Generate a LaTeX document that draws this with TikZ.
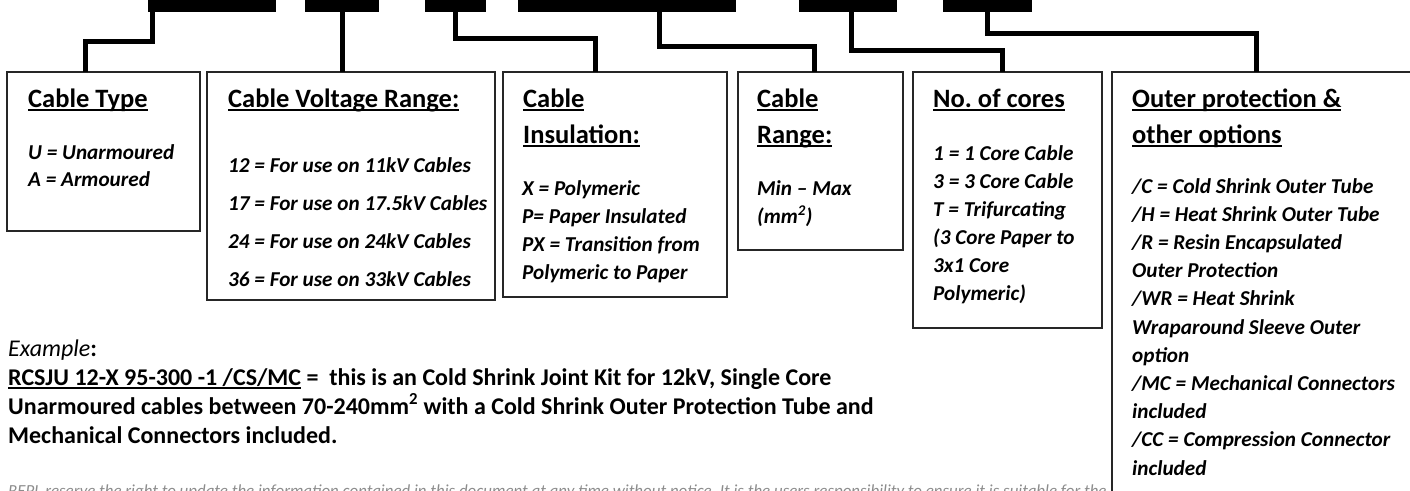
\documentclass[tikz,border=0pt]{standalone}
\usepackage{fontspec}
\setmainfont{Carlito}
\usetikzlibrary{positioning}
\frenchspacing
% underline at a fixed depth, as a word processor draws it
\newcommand\undl[1]{\setbox0\hbox{#1}\rlap{\rule[-3.8pt]{\wd0}{1.9pt}}\box0\relax}

\begin{document}
\begin{tikzpicture}[x=1pt,y=-1pt,
    bar/.style={fill=black,inner sep=0pt,outer sep=0pt,minimum height=17pt,anchor=south west},
    box/.style={draw=black!85,line width=1.6pt,inner sep=0pt,outer sep=0pt,anchor=north west},
    wire/.style={line width=5pt},
    head/.style={anchor=base west,inner sep=0pt,font=\fontsize{26.5}{26.5}\selectfont\bfseries},
    item/.style={anchor=base west,inner sep=0pt,font=\fontsize{21.2}{21.2}\selectfont\bfseries\itshape},
    ex/.style={anchor=base west,inner sep=0pt,font=\fontsize{24}{24}\selectfont\bfseries}]
  \useasboundingbox (0,0) rectangle (1410,490);
  \clip (0,0) rectangle (1410,490);

  % code bars along the top
  \node[bar,minimum width=128pt] (bar1) at (148,12) {};
  \node[bar,minimum width=74pt] (bar2) at (305,12) {};
  \node[bar,minimum width=61pt] (bar3) at (425,12) {};
  \node[bar,minimum width=218pt] (bar4) at (518,12) {};
  \node[bar,minimum width=98pt] (bar5) at (799,12) {};
  \node[bar,minimum width=89pt] (bar6) at (943,12) {};

  % boxes
  \node[box,minimum width=193pt,minimum height=159pt] (type) at (7,72) {};
  \node[box,minimum width=288pt,minimum height=228pt] (volt) at (207,72) {};
  \node[box,minimum width=224pt,minimum height=225pt] (ins) at (503,72) {};
  \node[box,minimum width=165pt,minimum height=178pt] (range) at (738,72) {};
  \node[box,minimum width=189pt,minimum height=256pt] (cores) at (913,72) {};
  \node[box,minimum width=330pt,minimum height=440pt] (outer) at (1112,72) {};

  \draw[wire] ([xshift=4pt]bar1.south west) -- ++(0,29) -| ([xshift=-18.5pt]type.north);
  \draw[wire] (bar2.south) -- (bar2.south |- volt.north);
  \draw[wire] (bar3.south) -- ++(0,26) -| ([xshift=-20pt]ins.north);
  \draw[wire] ([xshift=32pt]bar4.south) -- ++(0,34) -| ([xshift=-6.5pt]range.north);
  \draw[wire] ([xshift=3pt]bar5.south) -- ++(0,38) -| ([xshift=-5.5pt]cores.north);
  \draw[wire] (bar6.south) -- ++(0,21) -| ([xshift=144pt]outer.north west);

  % headings
  \node[head] (typeh) at ([shift={(21,35)}]type.north west) {\undl{Cable Type}};
  \node[head] (volth) at ([shift={(21,35)}]volt.north west) {\undl{Cable Voltage Range:}};
  \node[head] (insh1) at ([shift={(20,35)}]ins.north west) {\undl{Cable}};
  \node[head] (insh2) at ([shift={(20,71)}]ins.north west) {\undl{Insulation:}};
  \node[head] (rangeh1) at ([shift={(19,35)}]range.north west) {\undl{Cable}};
  \node[head] (rangeh2) at ([shift={(19,71)}]range.north west) {\undl{Range:}};
  \node[head] (coresh) at ([shift={(20,35)}]cores.north west) {\undl{No. of cores}};
  \node[head] (outerh1) at ([shift={(20,35)}]outer.north west) {\undl{Outer protection \&}};
  \node[head] (outerh2) at ([shift={(20,71)}]outer.north west) {\undl{other options}};

  % entries
  \foreach \t [count=\i from 0] in {U = Unarmoured, A = Armoured}
    \node[item] (typei\i) at ([shift={(21,87+27*\i)}]type.north west) {\t};
  \foreach \t [count=\i from 0] in {12 = For use on 11kV Cables, 17 = For use on 17.5kV Cables,
      24 = For use on 24kV Cables, 36 = For use on 33kV Cables}
    \node[item] (volti\i) at ([shift={(21,100+38.3*\i)}]volt.north west) {\t};
  \foreach \t [count=\i from 0] in {X = Polymeric, P= Paper Insulated,
      PX = Transition from, Polymeric to Paper}
    \node[item] (insi\i) at ([shift={(19,123+28*\i)}]ins.north west) {\t};
  \foreach \t [count=\i from 0] in {Min -- Max, {(mm\textsuperscript{2})}}
    \node[item] (rangei\i) at ([shift={(19,123+28*\i)}]range.north west) {\t};
  \foreach \t [count=\i from 0] in {1 = 1 Core Cable, 3 = 3 Core Cable, T = Trifurcating,
      {(3 Core Paper to}, 3x1 Core, {Polymeric)}}
    \node[item] (coresi\i) at ([shift={(20,88+28*\i)}]cores.north west) {\t};
  \foreach \t [count=\i from 0] in {/C = Cold Shrink Outer Tube, /H = Heat Shrink Outer Tube,
      /R = Resin Encapsulated, Outer Protection, /WR = Heat Shrink,
      Wraparound Sleeve Outer, option, /MC = Mechanical Connectors, included,
      /CC = Compression Connector, included}
    \node[item] (outeri\i) at ([shift={(20,121+28.2*\i)}]outer.north west) {\t};

  % worked example
  \node[ex] (exlabel) at (8,356) {\mdseries\itshape Example\upshape\bfseries:};
  \node[ex] (ex1) at (8,385) {\undl{RCSJU 12-X 95-300 -1 /CS/MC} =\ \ this is an Cold Shrink Joint Kit for 12kV, Single Core};
  \node[ex] (ex2) at (8,414) {Unarmoured cables between 70-240mm\textsuperscript{2} with a Cold Shrink Outer Protection Tube and};
  \node[ex] (ex3) at (8,443) {Mechanical Connectors included.};
  \node[anchor=base west,inner sep=0pt,text=black!45,font=\fontsize{16.9}{16.9}\selectfont\itshape] (note) at (8,496)
    {REPL reserve the right to update the information contained in this document at any time without notice. It is the users responsibility to ensure it is suitable for the};
\end{tikzpicture}
\end{document}
